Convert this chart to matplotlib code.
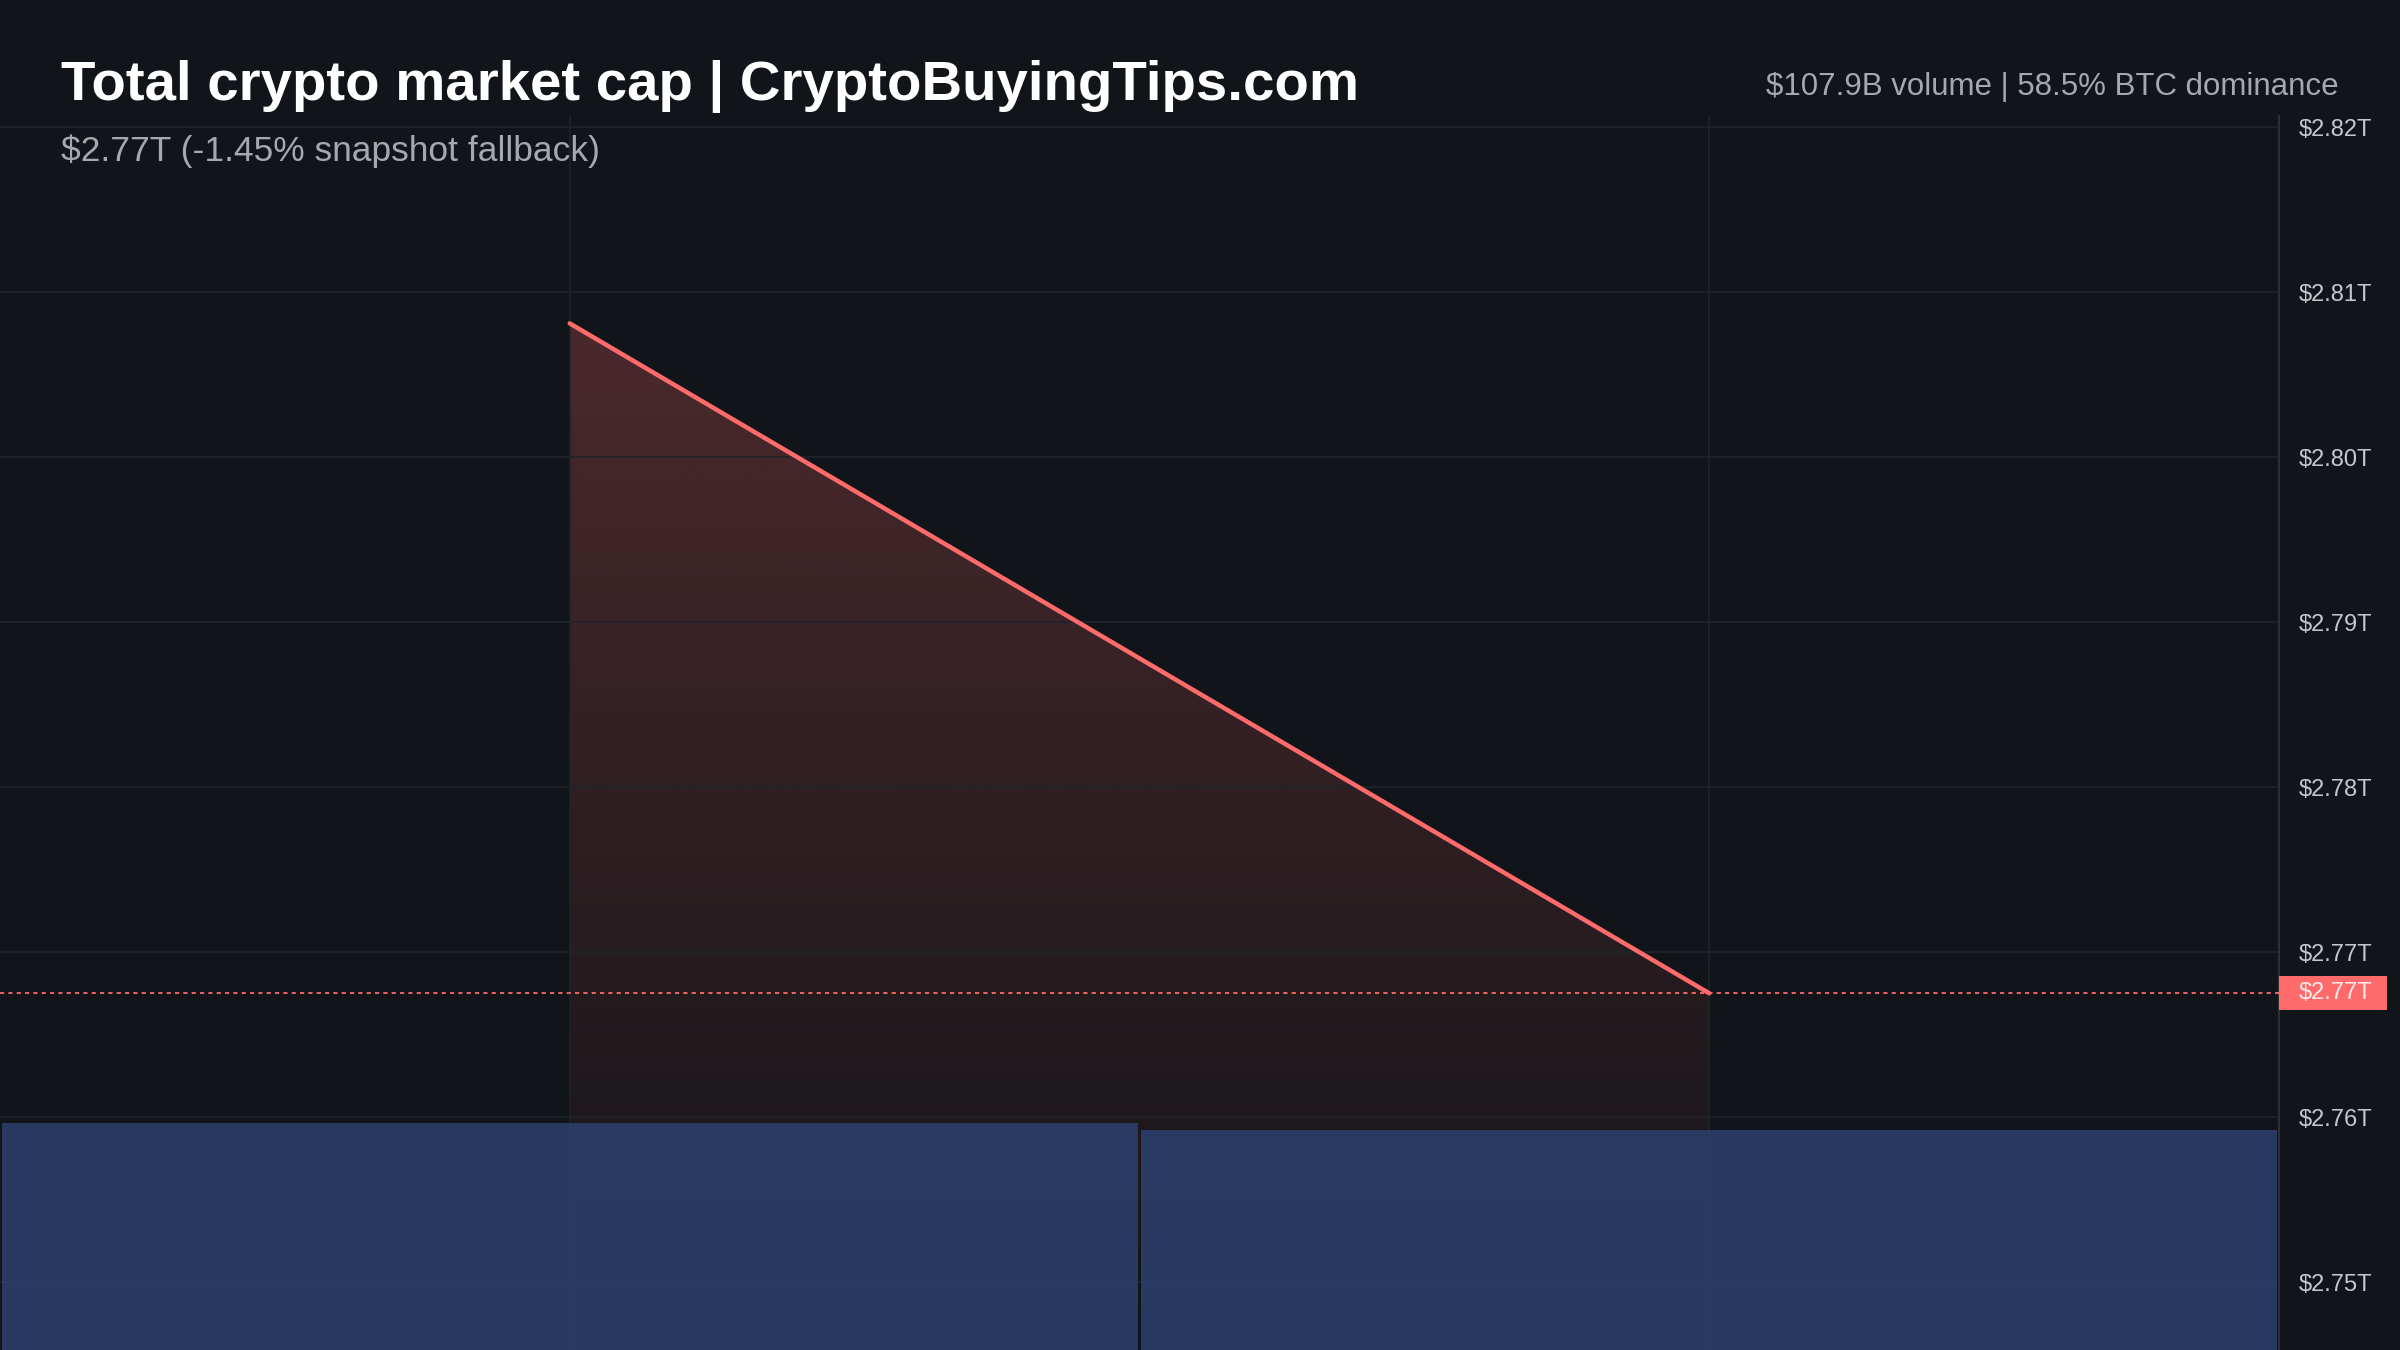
import numpy as np
import matplotlib

matplotlib.use("Agg")
import matplotlib.pyplot as plt
from matplotlib.patches import Polygon, Rectangle
from matplotlib.transforms import blended_transform_factory

plt.rcParams["font.family"] = ["Liberation Sans", "DejaVu Sans"]

BG = "#111418"
GRID = "#20242a"
LINE = "#ff6b6b"
MUTED = "#a3a8b2"
TICK = "#c4c7cd"
VOL_COLOR = "#2d3e6a"

# data
times = [0, 1]
market_cap_t = [2.8081, 2.7675]          # trillions USD
volume_b = [111.3, 107.9]                # billions USD
price_ticks = [2.75, 2.76, 2.77, 2.78, 2.79, 2.80, 2.81, 2.82]
title = "Total crypto market cap | CryptoBuyingTips.com"
subtitle = "$2.77T (-1.45% snapshot fallback)"
stats = "$107.9B volume | 58.5% BTC dominance"

fig = plt.figure(figsize=(24, 13.5), dpi=100, facecolor=BG)
rect = (0, 0, 2279 / 2400, 1 - 116 / 1350)

ax = fig.add_axes(rect, facecolor=BG)
ax_vol = fig.add_axes(rect, facecolor="none")

# volume histogram in its own scale, bottom of the pane, drawn over the price pane
ax_vol.bar(times, volume_b, width=0.997, color=VOL_COLOR, alpha=0.9, zorder=1)
ax_vol.set_xlim(-0.5, 1.5)
ax_vol.set_ylim(0, max(volume_b) * 1234 / 227)
ax_vol.axis("off")

ylo, yhi = 2.74588, 2.82067
ax.set_xlim(-0.5, 1.5)
ax.set_ylim(ylo, yhi)

# gradient area under the line
top = max(market_cap_t)
grad = np.zeros((256, 1, 4))
grad[..., 0] = 1.0
grad[..., 1] = 107 / 255
grad[..., 2] = 107 / 255
grad[..., 3] = np.linspace(0.0, 0.245, 256)[:, None]
img = ax.imshow(grad, extent=(times[0], times[-1], ylo, top), origin="lower",
                aspect="auto", zorder=1, interpolation="bilinear")
poly = Polygon([(times[0], market_cap_t[0]), (times[1], market_cap_t[1]),
                (times[1], ylo), (times[0], ylo)], closed=True,
               facecolor="none", edgecolor="none", transform=ax.transData)
ax.add_patch(poly)
img.set_clip_path(poly)
ax.set_xlim(-0.5, 1.5)
ax.set_ylim(ylo, yhi)

ax.plot(times, market_cap_t, color=LINE, lw=3.2, solid_capstyle="round", zorder=4)
ax.axhline(market_cap_t[-1], color=LINE, lw=1.5, ls=(0, (2, 2)), alpha=0.9, zorder=3)

# grid
for t in price_ticks:
    ax.axhline(t, color=GRID, lw=1.2, zorder=2)
for t in times:
    ax.axvline(t, color=GRID, lw=1.2, zorder=2)

ax.set_yticks(price_ticks)
ax.set_yticklabels([f"${t:.2f}T" for t in price_ticks])
ax.yaxis.tick_right()
ax.tick_params(axis="y", length=0, pad=14.4, labelsize=17, labelcolor=TICK)
ax.set_xticks([])
for name, sp in ax.spines.items():
    sp.set_visible(name == "right")
ax.spines["right"].set_color("#2b2f36")
ax.spines["right"].set_linewidth(1.5)

# last-value label on the price scale
tr = blended_transform_factory(ax.transAxes, ax.transData)
box_h = 34 / 1234 * (yhi - ylo)
ax.add_patch(Rectangle((1.0, market_cap_t[-1] - box_h / 2), 108 / 2279, box_h,
                       transform=tr, facecolor=LINE, edgecolor="none",
                       clip_on=False, zorder=5))
ax.text(1.0 + 20 / 2279, market_cap_t[-1], f"${market_cap_t[-1]:.2f}T", transform=tr,
        ha="left", va="center", fontsize=17, color="#fbeaea", zorder=6, clip_on=False)

fig.text(61 / 2400, 1 - 100 / 1350, title, fontsize=40.6, fontweight="bold",
         color="white", va="baseline", ha="left")
fig.text(61 / 2400, 1 - 161 / 1350, subtitle, fontsize=25.5, color=MUTED,
         va="baseline", ha="left")
fig.text(2339 / 2400, 1 - 95 / 1350, stats, fontsize=22.5, color=MUTED,
         va="baseline", ha="right")

fig.savefig("out.png", dpi=100, facecolor=BG)
